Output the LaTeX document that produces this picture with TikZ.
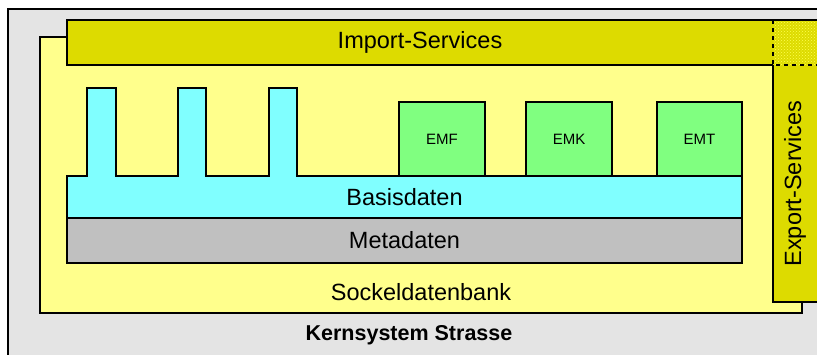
\documentclass[tikz,border=0pt]{standalone}
\usepackage{fontspec}
\setmainfont{Liberation Sans}
\usepackage{tikz}
\usetikzlibrary{patterns}
\usetikzlibrary{positioning}
\definecolor{kerngray}{HTML}{E4E4E4}
\definecolor{sockelyellow}{HTML}{FFFF8C}
\definecolor{serviceyellow}{HTML}{DDDB00}
\definecolor{hatchyellow}{HTML}{FFFF50}
\definecolor{basiscyan}{HTML}{80FFFF}
\definecolor{metagray}{HTML}{C0C0C0}
\definecolor{emgreen}{HTML}{80FF80}
\tikzset{block/.style = {draw=black, line width=1.5pt},
         biglabel/.style = {font=\fontsize{23.5}{28}\selectfont, inner sep=0pt},
         smalllabel/.style = {font=\fontsize{15}{18}\selectfont, inner sep=0pt}}

\begin{document}
\begin{tikzpicture}[x=1pt, y=-1pt, line join=miter]
      \useasboundingbox (0, 0) rectangle (817, 354);

      \draw [block, fill=kerngray] (8, 9) rectangle (840, 380);
      \draw [block, fill=sockelyellow] (40, 37) rectangle (802, 313);

      % import / export
      \fill [serviceyellow] (67, 20) rectangle (840, 65);
      \fill [serviceyellow] (773, 20) rectangle (840, 302);
      \fill [pattern=crosshatch dots, pattern color=hatchyellow] (773, 20) rectangle (840, 65);
      \draw [block] (773, 65) -- (67, 65) -- (67, 20) -- (840, 20);
      \draw [block] (773, 65) -- (773, 302) -- (840, 302);
      \draw [block, dash pattern=on 4pt off 4pt] (773, 20) -- (773, 65) -- (840, 65);

      % basisdaten with teeth
      \draw [block, fill=basiscyan] (67, 176) -- (87, 176) -- (87, 88) -- (116, 88) -- (116, 176)
            -- (178, 176) -- (178, 88) -- (206, 88) -- (206, 176)
            -- (269, 176) -- (269, 88) -- (297, 88) -- (297, 176)
            -- (742, 176) -- (742, 218) -- (67, 218) -- cycle;
      \draw [block, fill=metagray] (67, 218) rectangle (742, 263);

      \draw [block, fill=emgreen] (399, 102) rectangle (485, 176);
      \draw [block, fill=emgreen] (526, 102) rectangle (612, 176);
      \draw [block, fill=emgreen] (657, 102) rectangle (742, 176);

      \node [smalllabel] (emf) at (442, 139) {EMF};
      \node [smalllabel] (emk) at (569, 139) {EMK};
      \node [smalllabel] (emt) at (699.5, 139) {EMT};

      \node [biglabel] (import) at (420, 42.5) {Import-Services};
      \node [biglabel, rotate=90] (export) at (795, 183.5) {Export-Services};
      \node [biglabel] (basis) at (404.5, 197) {Basisdaten};
      \node [biglabel] (meta) at (404.5, 240.5) {Metadaten};
      \node [biglabel] (sockel) at (421, 292) {Sockeldatenbank};
      \node [biglabel, font=\fontsize{21.5}{26}\selectfont\bfseries] (kern) at (409, 335) {Kernsystem Strasse};
    \end{tikzpicture}
\end{document}
